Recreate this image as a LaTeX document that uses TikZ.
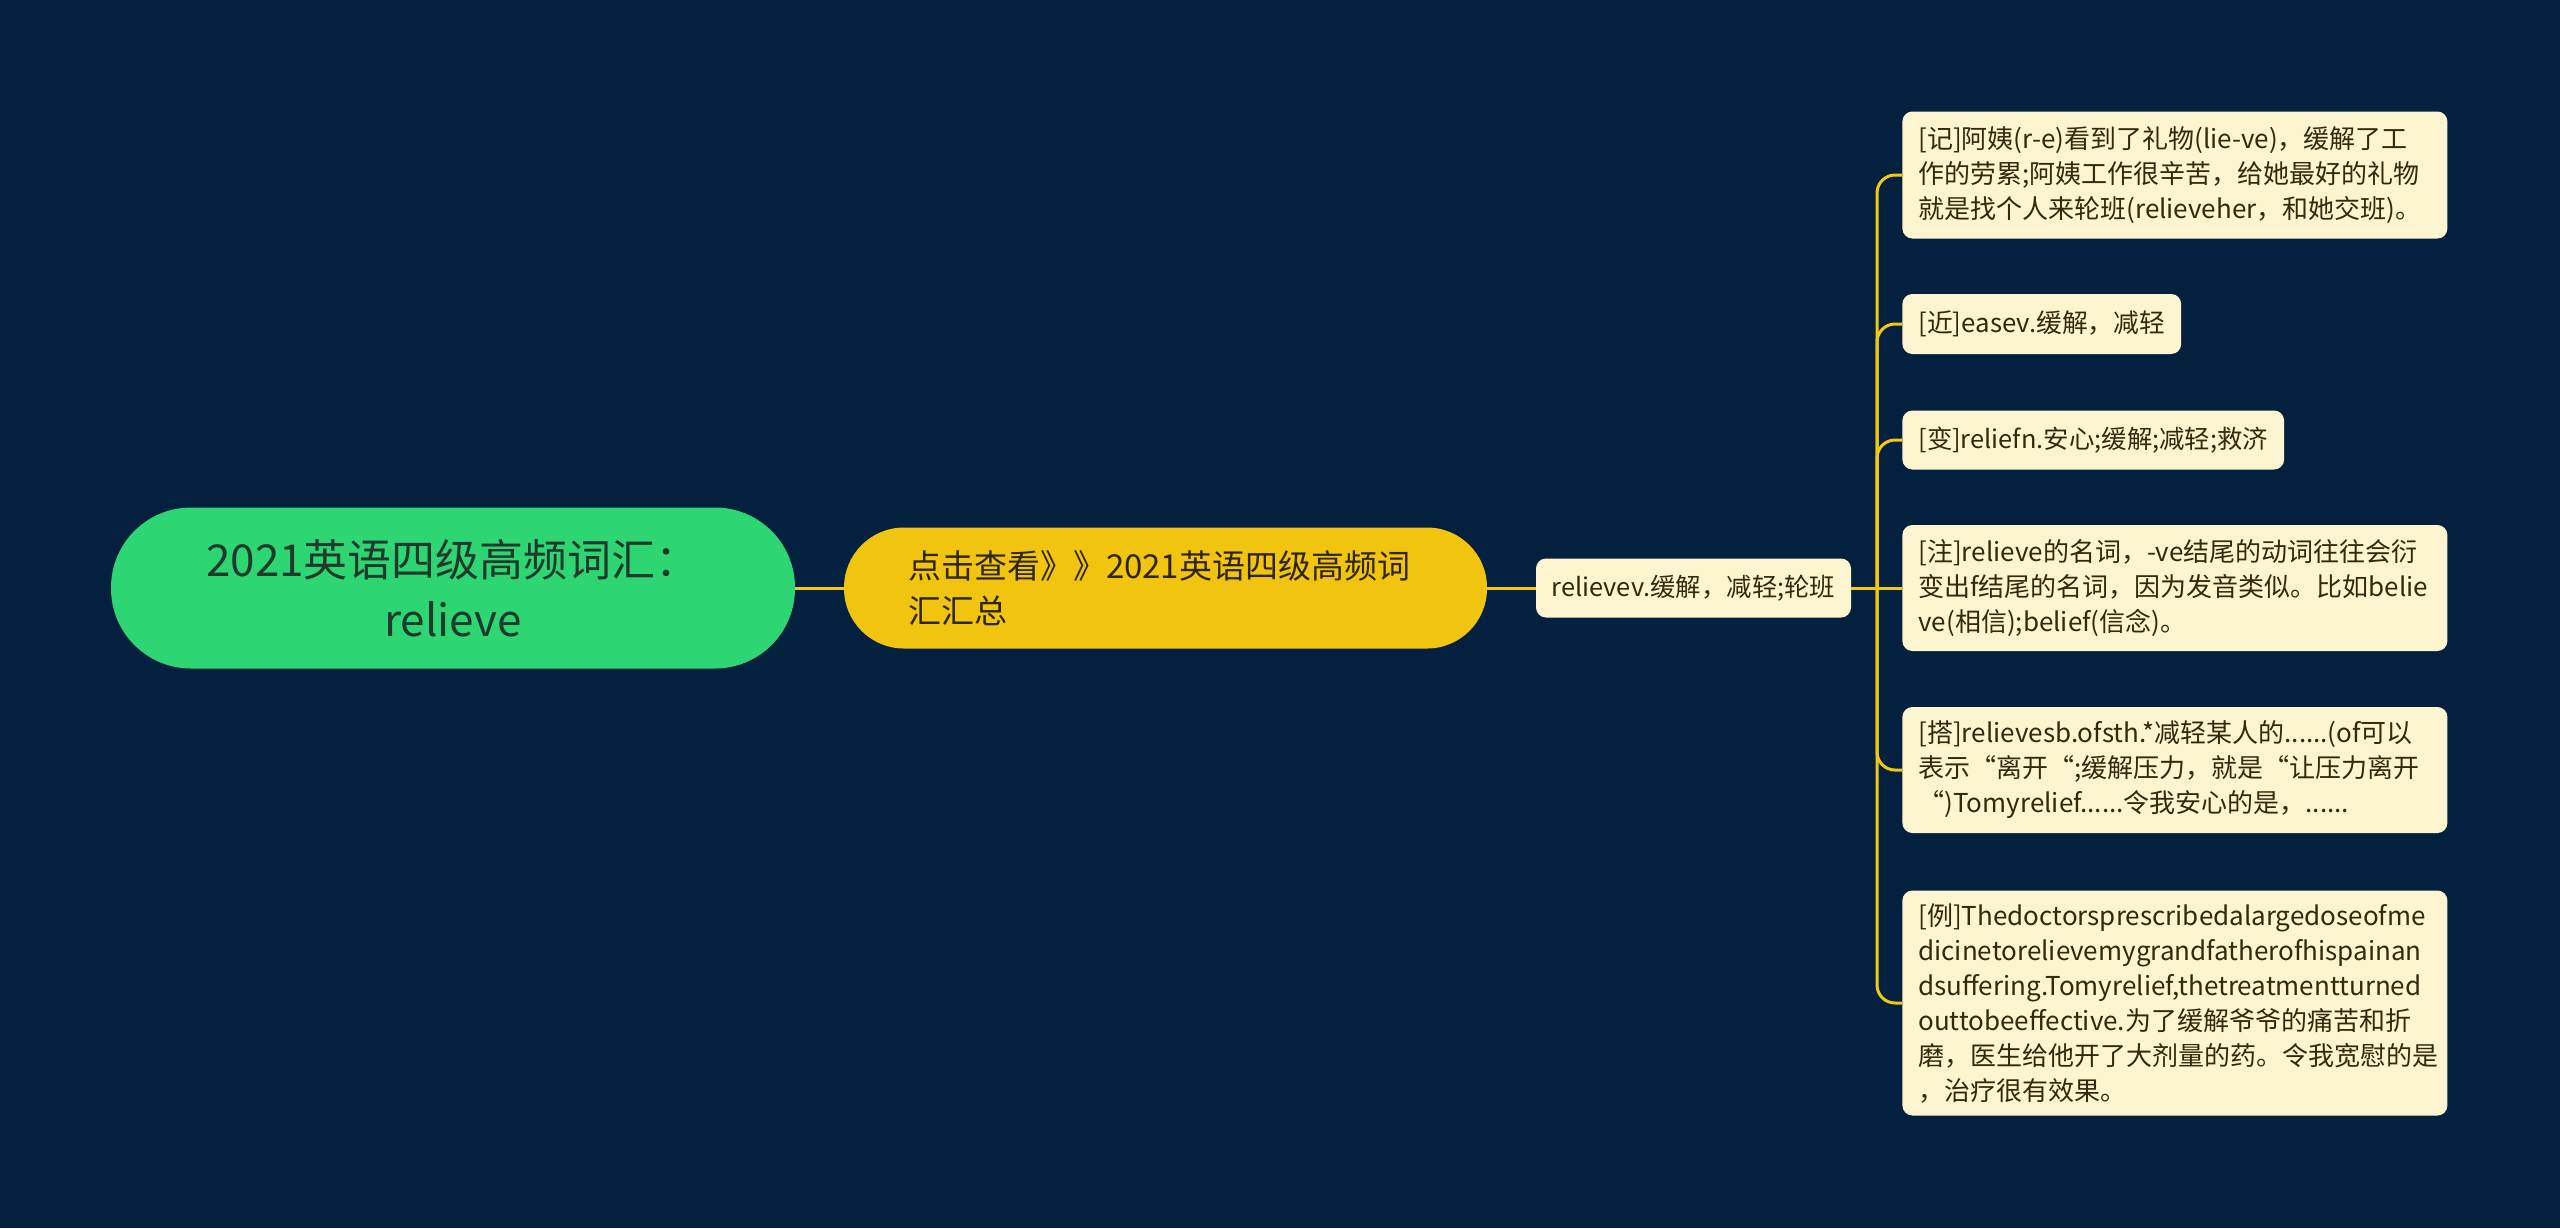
\documentclass[tikz,border=0pt]{standalone}
\usepackage{fontspec}
\setmainfont{Noto Sans CJK SC}
\definecolor{bg}{HTML}{03213F}
\definecolor{rootfill}{HTML}{2ED573}
\definecolor{rootText}{HTML}{1F3A2A}
\definecolor{mainfill}{HTML}{F1C40F}
\definecolor{mainText}{HTML}{2E2506}
\definecolor{leaffill}{HTML}{FDF4D0}
\definecolor{leafText}{HTML}{33290D}
\definecolor{linkcol}{HTML}{F2C811}
\begin{document}
\begin{tikzpicture}[x=0.5pt,y=-0.5pt,
  rootbox/.style={fill=rootfill,text=rootText,rounded corners=40pt,minimum width=342pt,minimum height=80.5pt,align=center,inner sep=0pt,font=\fontsize{22}{30}\selectfont},
  mainbox/.style={fill=mainfill,text=mainText,rounded corners=30pt,minimum height=60.5pt,text width=257.5pt,inner xsep=32pt,inner ysep=0pt,align=left,font=\fontsize{16.5}{22.5}\selectfont},
  midbox/.style={fill=leaffill,text=leafText,rounded corners=5pt,minimum width=157.5pt,minimum height=29.5pt,inner xsep=6pt,inner ysep=0pt,font=\fontsize{12.7}{17.5}\selectfont},
  leafbox/.style={fill=leaffill,text=leafText,rounded corners=5pt,anchor=west,inner xsep=8pt,inner ysep=0pt,align=left,font=\fontsize{13}{17.5}\selectfont},
  wideleaf/.style={leafbox,text width=256.5pt},
  link/.style={draw=linkcol,line width=1.5pt}
]
\fill[bg] (0,0) rectangle (2560,1228);

\node[rootbox] (root) at (453,588) {2021英语四级高频词汇：\\relieve};
\node[mainbox] (main) at (1165.5,588) {点击查看》》2021英语四级高频词\\汇汇总};
\node[midbox] (mid) at (1693.5,588) {relievev.缓解，减轻;轮班};

\node[wideleaf,minimum height=63.5pt] (l1) at (1902,175) {[记]阿姨(r-e)看到了礼物(lie-ve)，缓解了工\\作的劳累;阿姨工作很辛苦，给她最好的礼物\\就是找个人来轮班(relieveher，和她交班)。};
\node[leafbox,minimum height=30pt,font=\fontsize{12.9}{17.5}\selectfont] (l2) at (1902,324) {[近]easev.缓解，减轻};
\node[leafbox,minimum height=29.5pt,font=\fontsize{12.7}{17.5}\selectfont] (l3) at (1902,440) {[变]reliefn.安心;缓解;减轻;救济};
\node[wideleaf,minimum height=63pt] (l4) at (1902,588) {[注]relieve的名词，-ve结尾的动词往往会衍\\变出f结尾的名词，因为发音类似。比如belie\\ve(相信);belief(信念)。};
\node[wideleaf,minimum height=63pt] (l5) at (1902,770) {[搭]relievesb.ofsth.*减轻某人的......(of可以\\表示“离开“;缓解压力，就是“让压力离开\\“)Tomyrelief......令我安心的是，......};
\node[wideleaf,minimum height=112.5pt] (l6) at (1902,1003) {[例]Thedoctorsprescribedalargedoseofme\\dicinetorelievemygrandfatherofhispainan\\dsuffering.Tomyrelief,thetreatmentturned\\outtobeeffective.为了缓解爷爷的痛苦和折\\磨，医生给他开了大剂量的药。令我宽慰的是\\，治疗很有效果。};

\coordinate (j) at (1877,588);
\draw[link] (root.east) -- (main.west);
\draw[link] (main.east) -- (mid.west);
\draw[link] (mid.east) -- (j);
\foreach \n in {l1,l2,l3,l5,l6}{
  \draw[link,rounded corners=9pt] (j) |- (\n.west);
}
\draw[link] (j) -- (l4.west);
\end{tikzpicture}
\end{document}
